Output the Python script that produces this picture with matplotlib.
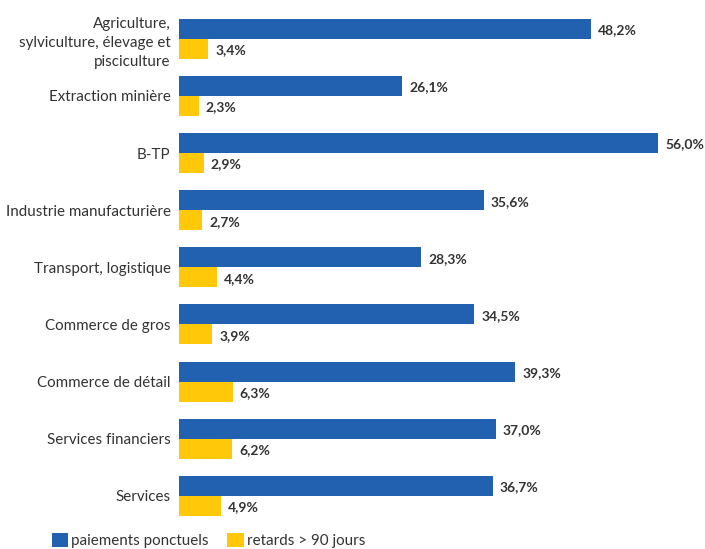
import numpy as np
import matplotlib.pyplot as plt

categories = ["Agriculture,\nsylviculture, élevage et\npisciculture", "Extraction minière", "B-TP",
              "Industrie manufacturière", "Transport, logistique", "Commerce de gros",
              "Commerce de détail", "Services financiers", "Services"]
ponctuels = [48.2, 26.1, 56.0, 35.6, 28.3, 34.5, 39.3, 37.0, 36.7]
retards = [3.4, 2.3, 2.9, 2.7, 4.4, 3.9, 6.3, 6.2, 4.9]
series_names = ["paiements ponctuels", "retards > 90 jours"]

blue = "#2161B0"
yellow = "#FFC90A"
txt = "#333333"

plt.rcParams['font.family'] = ['Lato', 'DejaVu Sans']

fig = plt.figure(figsize=(7.05, 5.49), dpi=100)
ax = fig.add_axes([179 / 705, 24 / 549, 521 / 705, 525 / 549])

y = np.arange(len(categories))
h = 0.35
b1 = ax.barh(y - h / 2, ponctuels, height=h, color=blue, label=series_names[0])
b2 = ax.barh(y + h / 2, retards, height=h, color=yellow, label=series_names[1])

for bars, vals in ((b1, ponctuels), (b2, retards)):
    for bar, v in zip(bars, vals):
        ax.annotate(f"{v:.1f}%".replace(".", ","), (bar.get_width(), bar.get_y() + bar.get_height() / 2),
                    xytext=(5, -1), textcoords="offset points", ha="left", va="center",
                    fontsize=10, fontweight="bold", color=txt)

ax.set_xlim(0, 60.9)
ax.set_ylim(8.51, -0.68)
ax.set_yticks(y)
ax.set_yticklabels(categories, fontsize=10.9, color=txt, linespacing=1.45)
ax.tick_params(axis="y", length=0, pad=6)
ax.set_xticks([])
for s in ax.spines.values():
    s.set_visible(False)

fig.legend(handles=[b1, b2], loc="lower left", bbox_to_anchor=(38 / 705, -13 / 549),
           ncol=2, frameon=False, fontsize=10.9, handlelength=1.1, handleheight=1.0,
           handletextpad=0.2, columnspacing=1.2, labelcolor=txt)

fig.savefig("out.png", dpi=100)
